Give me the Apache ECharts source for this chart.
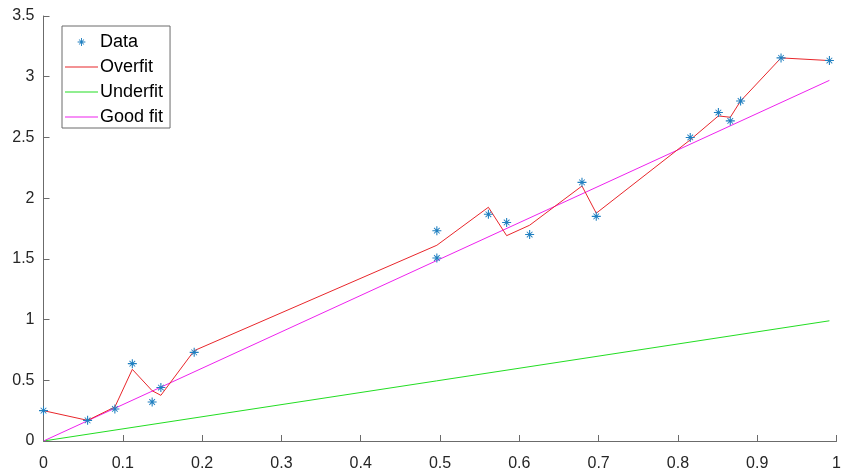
<!DOCTYPE html>
<html>
<head>
<meta charset="utf-8">
<script src="https://cdn.jsdelivr.net/npm/echarts@6/dist/echarts.min.js"></script>
<style>
  html, body { margin: 0; padding: 0; background: #fff; }
  #chart { width: 844px; height: 472px; }
</style>
</head>
<body>
<div id="chart"></div>
<script>
// Sample points
var dataX = [0, 0.0556, 0.090, 0.112, 0.137, 0.148, 0.190, 0.496, 0.496, 0.561, 0.584, 0.613, 0.679, 0.697, 0.8155, 0.851, 0.866, 0.879, 0.930, 0.991];
var dataY = [0.25, 0.17, 0.264, 0.637, 0.321, 0.44, 0.73, 1.732, 1.507, 1.867, 1.80, 1.70, 2.13, 1.85, 2.50, 2.705, 2.636, 2.80, 3.155, 3.133];

// High-order fit evaluated at the sample positions
var overfitX = [0, 0.0556, 0.090, 0.112, 0.137, 0.148, 0.190, 0.496, 0.561, 0.584, 0.613, 0.679, 0.697, 0.8155, 0.851, 0.866, 0.879, 0.930, 0.991];
var overfitY = [0.25, 0.17, 0.28, 0.59, 0.414, 0.376, 0.744, 1.612, 1.925, 1.691, 1.777, 2.10, 1.876, 2.48, 2.677, 2.666, 2.80, 3.155, 3.133];

// Straight-line fits
var underfitX = [0, 0.991];
var underfitY = [0, 0.99];
var goodfitX = [0, 0.991];
var goodfitY = [0, 2.97];

// Axis ticks
var xTicks = [0, 0.1, 0.2, 0.3, 0.4, 0.5, 0.6, 0.7, 0.8, 0.9, 1];
var yTicks = [0, 0.5, 1, 1.5, 2, 2.5, 3, 3.5];

function pairs(xs, ys) {
  return xs.map(function (x, i) { return [x, ys[i]]; });
}

// Eight-armed asterisk marker
var STAR = 'path://M0,4.4L10,4.4L10,5.6L0,5.6Z M4.4,0L5.6,0L5.6,10L4.4,10Z M1.5,2.2L2.2,1.5L8.5,7.8L7.8,8.5Z M7.8,1.5L8.5,2.2L2.2,8.5L1.5,7.8Z';
// Same marker with extra empty room so it stays small in the legend
var STAR_LEGEND = 'path://M-4,-4 M14,14 M0,4.4L10,4.4L10,5.6L0,5.6Z M4.4,0L5.6,0L5.6,10L4.4,10Z M1.5,2.2L2.2,1.5L8.5,7.8L7.8,8.5Z M7.8,1.5L8.5,2.2L2.2,8.5L1.5,7.8Z';
// Plain thin stroke for the line entries of the legend
var LINE_ICON = 'path://M0,0L33,0L33,1L0,1Z';

var FONT = '"Liberation Sans", Arial, Helvetica, sans-serif';
var AXIS_COLOR = '#6b6b6b';
var TEXT_COLOR = '#262626';

var chart = echarts.init(document.getElementById('chart'), null, { renderer: 'canvas' });

chart.setOption({
  animation: false,
  backgroundColor: '#ffffff',
  grid: { left: 43.5, right: 6.5, top: 16, bottom: 31, containLabel: false },
  xAxis: {
    type: 'value',
    min: xTicks[0],
    max: xTicks[xTicks.length - 1],
    interval: 0.1,
    splitLine: { show: false },
    axisLine: { show: true, onZero: false, lineStyle: { color: AXIS_COLOR, width: 1 } },
    axisTick: { show: true, inside: true, length: 6, lineStyle: { color: AXIS_COLOR } },
    axisLabel: { color: TEXT_COLOR, fontSize: 16, fontFamily: FONT, margin: 15 }
  },
  yAxis: {
    type: 'value',
    min: yTicks[0],
    max: yTicks[yTicks.length - 1],
    interval: 0.5,
    splitLine: { show: false },
    axisLine: { show: true, onZero: false, lineStyle: { color: AXIS_COLOR, width: 1 } },
    axisTick: { show: true, inside: true, length: 6, lineStyle: { color: AXIS_COLOR } },
    axisLabel: { color: TEXT_COLOR, fontSize: 16, fontFamily: FONT, margin: 9, padding: [6, 0, 0, 0] }
  },
  legend: {
    orient: 'vertical',
    left: 62,
    top: 26,
    padding: [6, 7, 1, 3],
    itemGap: 5,
    itemWidth: 33,
    itemHeight: 14,
    backgroundColor: '#ffffff',
    borderColor: '#6b6b6b',
    borderWidth: 1,
    borderRadius: 0,
    textStyle: { fontSize: 18, fontFamily: FONT, color: '#000', lineHeight: 20, padding: [0, 0, 0, -3] },
    data: [
      { name: 'Data', icon: STAR_LEGEND },
      { name: 'Overfit', icon: LINE_ICON },
      { name: 'Underfit', icon: LINE_ICON },
      { name: 'Good fit', icon: LINE_ICON }
    ]
  },
  series: [
    {
      name: 'Underfit',
      type: 'line',
      data: pairs(underfitX, underfitY),
      showSymbol: false,
      symbol: 'none',
      lineStyle: { color: '#22dd22', width: 1 },
      itemStyle: { color: '#22dd22' },
      z: 2
    },
    {
      name: 'Good fit',
      type: 'line',
      data: pairs(goodfitX, goodfitY),
      showSymbol: false,
      symbol: 'none',
      lineStyle: { color: '#ee22ee', width: 1 },
      itemStyle: { color: '#ee22ee' },
      z: 2
    },
    {
      name: 'Overfit',
      type: 'line',
      data: pairs(overfitX, overfitY),
      showSymbol: false,
      symbol: 'none',
      lineStyle: { color: '#e8262b', width: 1 },
      itemStyle: { color: '#e8262b' },
      z: 3
    },
    {
      name: 'Data',
      type: 'scatter',
      data: pairs(dataX, dataY),
      symbol: STAR,
      symbolSize: 9,
      itemStyle: { color: '#1f7fc0', opacity: 1 },
      z: 4
    }
  ]
});
</script>
</body>
</html>
